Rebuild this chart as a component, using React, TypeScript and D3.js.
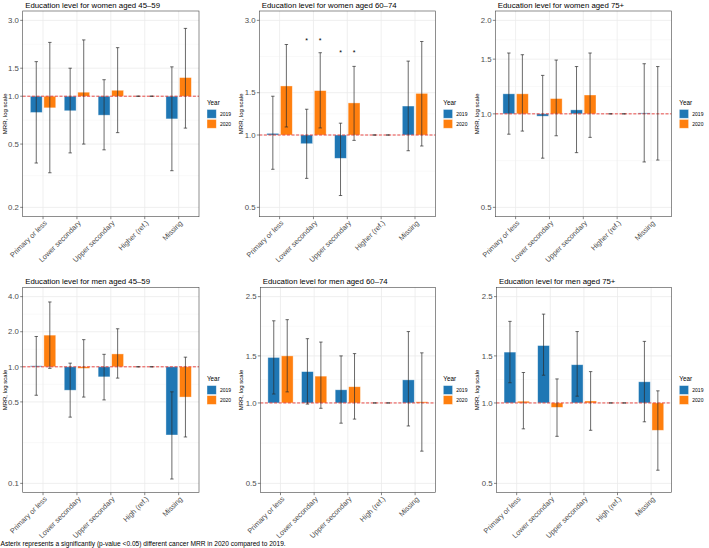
import React from "react";
import * as d3 from "d3";

const W = 709;
const H = 548;

const WOMEN_CATS = ["Primary or less", "Lower secondary", "Upper secondary", "Higher (ref.)", "Missing"];
const MEN_CATS = ["Primary or less", "Lower secondary", "Upper secondary", "High (ref.)", "Missing"];
const YEARS = ["2019", "2020"];
const YEAR_COLORS = ["#1f77b4", "#ff7f0e"];

const TITLES = [
  "Education level for women aged 45\u201359",
  "Education level for women aged 60\u201374",
  "Education level for women aged 75+",
  "Education level for men aged 45\u201359",
  "Education level for men aged 60\u201374",
  "Education level for men aged 75+",
];

// y limits and breaks per panel
const LIMITS = [[0.2, 3], [0.5, 3], [0.5, 2], [0.1, 4], [0.5, 2.5], [0.5, 2.5]];
const BREAKS = [
  [0.2, 0.5, 1, 1.5, 3],
  [0.5, 1, 1.5, 3],
  [0.5, 1, 1.5, 2],
  [0.1, 0.5, 1, 2, 4],
  [0.5, 1, 1.5, 2.5],
  [0.5, 1, 1.5, 2.5],
];

// Women 45-59
const W4559_MRR19 = [0.79, 0.81, 0.76, 1, 0.72];
const W4559_LO19 = [0.38, 0.44, 0.46, 1, 0.34];
const W4559_HI19 = [1.65, 1.5, 1.27, 1, 1.53];
const W4559_MRR20 = [0.845, 1.06, 1.09, 1, 1.31];
const W4559_LO20 = [0.33, 0.5, 0.59, 1, 0.63];
const W4559_HI20 = [2.18, 2.26, 2.02, 1, 2.67];

// Women 60-74
const W6074_MRR19 = [1.016, 0.92, 0.8, 1, 1.32];
const W6074_LO19 = [0.72, 0.66, 0.56, 1, 0.86];
const W6074_HI19 = [1.45, 1.28, 1.12, 1, 2.03];
const W6074_MRR20 = [1.6, 1.53, 1.36, 1, 1.49];
const W6074_LO20 = [1.08, 1.07, 0.95, 1, 0.9];
const W6074_HI20 = [2.38, 2.2, 1.93, 1, 2.45];
const W6074_STAR_CATS = [1, 2];
const W6074_STAR_Y = [2.5, 2.22];

// Women 75+
const W75_MRR19 = [1.16, 0.983, 1.03, 1, 1.007];
const W75_LO19 = [0.86, 0.72, 0.75, 1, 0.7];
const W75_HI19 = [1.57, 1.33, 1.42, 1, 1.45];
const W75_MRR20 = [1.16, 1.12, 1.15, 1, 1.0];
const W75_LO20 = [0.88, 0.85, 0.84, 1, 0.71];
const W75_HI20 = [1.55, 1.49, 1.57, 1, 1.42];

// Men 45-59
const M4559_MRR19 = [1.02, 0.63, 0.82, 1, 0.26];
const M4559_LO19 = [0.57, 0.37, 0.52, 1, 0.109];
const M4559_HI19 = [1.82, 1.075, 1.28, 1, 0.61];
const M4559_MRR20 = [1.87, 0.97, 1.29, 1, 0.55];
const M4559_LO20 = [0.97, 0.55, 0.8, 1, 0.25];
const M4559_HI20 = [3.6, 1.71, 2.12, 1, 1.21];

// Men 60-74
const M6074_MRR19 = [1.48, 1.31, 1.12, 1, 1.22];
const M6074_LO19 = [1.08, 0.99, 0.84, 1, 0.82];
const M6074_HI19 = [2.03, 1.74, 1.5, 1, 1.85];
const M6074_MRR20 = [1.5, 1.26, 1.15, 1, 1.01];
const M6074_LO20 = [1.1, 0.955, 0.87, 1, 0.66];
const M6074_HI20 = [2.05, 1.69, 1.53, 1, 1.54];

// Men 75+
const M75_MRR19 = [1.55, 1.64, 1.39, 1, 1.2];
const M75_LO19 = [1.19, 1.27, 1.06, 1, 0.85];
const M75_HI19 = [2.02, 2.15, 1.85, 1, 1.7];
const M75_MRR20 = [1.015, 0.963, 1.017, 1, 0.79];
const M75_LO20 = [0.8, 0.75, 0.79, 1, 0.56];
const M75_HI20 = [1.3, 1.23, 1.31, 1, 1.11];

const FOOTNOTE =
  "Asterix represents a significantly (p-value <0.05) different cancer MRR in 2020 compared to 2019.";

type Panel = {
  title: string;
  cats: string[];
  mrr: number[][];
  lo: number[][];
  hi: number[][];
  limits: number[];
  breaks: number[];
  starCats: number[];
  starY: number[];
};

const PANELS: Panel[] = [
  { title: TITLES[0], cats: WOMEN_CATS, mrr: [W4559_MRR19, W4559_MRR20], lo: [W4559_LO19, W4559_LO20], hi: [W4559_HI19, W4559_HI20], limits: LIMITS[0], breaks: BREAKS[0], starCats: [], starY: [] },
  { title: TITLES[1], cats: WOMEN_CATS, mrr: [W6074_MRR19, W6074_MRR20], lo: [W6074_LO19, W6074_LO20], hi: [W6074_HI19, W6074_HI20], limits: LIMITS[1], breaks: BREAKS[1], starCats: W6074_STAR_CATS, starY: W6074_STAR_Y },
  { title: TITLES[2], cats: WOMEN_CATS, mrr: [W75_MRR19, W75_MRR20], lo: [W75_LO19, W75_LO20], hi: [W75_HI19, W75_HI20], limits: LIMITS[2], breaks: BREAKS[2], starCats: [], starY: [] },
  { title: TITLES[3], cats: MEN_CATS, mrr: [M4559_MRR19, M4559_MRR20], lo: [M4559_LO19, M4559_LO20], hi: [M4559_HI19, M4559_HI20], limits: LIMITS[3], breaks: BREAKS[3], starCats: [], starY: [] },
  { title: TITLES[4], cats: MEN_CATS, mrr: [M6074_MRR19, M6074_MRR20], lo: [M6074_LO19, M6074_LO20], hi: [M6074_HI19, M6074_HI20], limits: LIMITS[4], breaks: BREAKS[4], starCats: [], starY: [] },
  { title: TITLES[5], cats: MEN_CATS, mrr: [M75_MRR19, M75_MRR20], lo: [M75_LO19, M75_LO20], hi: [M75_HI19, M75_HI20], limits: LIMITS[5], breaks: BREAKS[5], starCats: [], starY: [] },
];

const FONT = "'Liberation Sans', Arial, Helvetica, sans-serif";
const COL_X = [0, 236, 472];
const PANEL_LEFT = [
  [22.7, 259.3, 495.3],
  [22.7, 260.3, 496.5],
];
const PANEL_RIGHT = [199, 435.3, 671.3];
const PANEL_TOP = [11, 287.3];
const PANEL_BOTTOM = [216.7, 492.7];

function PanelView({ p, idx }: { p: Panel; idx: number }) {
  const row = Math.floor(idx / 3);
  const col = idx % 3;
  const left = PANEL_LEFT[row][col];
  const right = PANEL_RIGHT[col];
  const top = PANEL_TOP[row];
  const bottom = PANEL_BOTTOM[row];

  const lnLo = Math.log(p.limits[0]);
  const lnHi = Math.log(p.limits[1]);
  const span = lnHi - lnLo;
  const y = d3
    .scaleLog()
    .domain([Math.exp(lnLo - 0.05 * span), Math.exp(lnHi + 0.05 * span)])
    .range([bottom, top]);
  const x = d3.scalePoint<string>().domain(p.cats).range([left, right]).padding(0.6);
  const step = x.step();
  const barW = 0.35 * step;
  const offs = [-0.2 * step, 0.2 * step];
  const capW = 0.1 * step;

  const minor: number[] = [];
  for (let i = 0; i < p.breaks.length - 1; i++) {
    minor.push(Math.sqrt(p.breaks[i] * p.breaks[i + 1]));
  }
  const fmt = d3.format(".1f");
  const cy = (top + bottom) / 2;
  const legX = right + 8;

  return (
    <g>
      <text x={left + 2.5} y={row === 0 ? 7.9 : 283.8} fontSize={7.8} fill="#000">
        {p.title}
      </text>
      <rect x={left} y={top} width={right - left} height={bottom - top} fill="#fff" />
      {minor.map((v, i) => (
        <line key={"mn" + i} x1={left} x2={right} y1={y(v)} y2={y(v)} stroke="#f2f2f2" strokeWidth={0.5} />
      ))}
      {p.breaks.map((v, i) => (
        <line key={"mj" + i} x1={left} x2={right} y1={y(v)} y2={y(v)} stroke="#ebebeb" strokeWidth={0.8} />
      ))}
      {p.cats.map((c) => (
        <line key={"gx" + c} x1={x(c)} x2={x(c)} y1={top} y2={bottom} stroke="#ebebeb" strokeWidth={0.8} />
      ))}
      {/* bars */}
      {p.cats.map((c, i) =>
        YEARS.map((yr, k) => {
          const v = p.mrr[k][i];
          const y0 = y(1);
          const y1 = y(v);
          return (
            <rect
              key={"b" + c + yr}
              x={(x(c) as number) + offs[k] - barW / 2}
              y={Math.min(y0, y1)}
              width={barW}
              height={Math.abs(y1 - y0)}
              fill={YEAR_COLORS[k]}
              stroke="rgba(255,255,255,0.55)"
              strokeWidth={0.7}
            />
          );
        })
      )}
      {/* reference line */}
      <line x1={left} x2={right} y1={y(1)} y2={y(1)} stroke="#e8201c" strokeWidth={0.8} strokeDasharray="3,1.6" />
      {/* error bars */}
      {p.cats.map((c, i) =>
        YEARS.map((yr, k) => {
          const cx = (x(c) as number) + offs[k];
          const ylo = y(p.lo[k][i]);
          const yhi = y(p.hi[k][i]);
          return (
            <g key={"e" + c + yr} stroke="#2b2b2b" strokeWidth={0.7}>
              <line x1={cx} x2={cx} y1={yhi} y2={ylo} />
              <line x1={cx - capW / 2} x2={cx + capW / 2} y1={yhi} y2={yhi} />
              <line x1={cx - capW / 2} x2={cx + capW / 2} y1={ylo} y2={ylo} />
            </g>
          );
        })
      )}
      {/* asterisks */}
      {p.starCats.map((ci, j) =>
        YEARS.map((yr, k) => (
          <text
            key={"s" + ci + yr}
            x={(x(p.cats[ci]) as number) + offs[k]}
            y={y(p.starY[j]) + 3.6}
            fontSize={7}
            textAnchor="middle"
            fill="#000"
          >
            *
          </text>
        ))
      )}
      <rect x={left} y={top} width={right - left} height={bottom - top} fill="none" stroke="#444" strokeWidth={0.6} />
      {/* y axis */}
      {p.breaks.map((v, i) => (
        <g key={"yt" + i}>
          <line x1={left - 2.5} x2={left} y1={y(v)} y2={y(v)} stroke="#333" strokeWidth={0.6} />
          <text x={left - 3.8} y={y(v)} dy="0.35em" fontSize={7.8} textAnchor="end" fill="#4d4d4d">
            {fmt(v)}
          </text>
        </g>
      ))}
      <text
        transform={`translate(${COL_X[col] + 7.2},${cy}) rotate(-90)`}
        fontSize={6}
        textAnchor="middle"
        fill="#000"
      >
        MRR, log scale
      </text>
      {/* x axis */}
      {p.cats.map((c) => (
        <g key={"xt" + c}>
          <line x1={x(c)} x2={x(c)} y1={bottom} y2={bottom + 2.5} stroke="#333" strokeWidth={0.6} />
          <text
            transform={`translate(${(x(c) as number) + 2.5},${bottom + 5}) rotate(-45)`}
            fontSize={7.3}
            textAnchor="end"
            dy="0.35em"
            fill="#4d4d4d"
          >
            {c}
          </text>
        </g>
      ))}
      {/* legend */}
      <text x={legX} y={cy - 8.6} fontSize={6.3} fill="#000">
        Year
      </text>
      {YEARS.map((yr, k) => (
        <g key={"lg" + yr}>
          <rect x={legX} y={cy - 4.4 + k * 10} width={9.3} height={8.8} fill={YEAR_COLORS[k]} stroke="rgba(255,255,255,0.55)" strokeWidth={0.7} />
          <text x={legX + 13} y={cy - 4.4 + k * 10 + 4.4} dy="0.35em" fontSize={5} fill="#000">
            {yr}
          </text>
        </g>
      ))}
    </g>
  );
}

export default function App() {
  return (
    <svg
      width={W}
      height={H}
      viewBox={`0 0 ${W} ${H}`}
      style={{ position: "fixed", left: 0, top: 0, background: "#fff" }}
      fontFamily={FONT}
    >
      <rect width={W} height={H} fill="#fff" />
      {PANELS.map((p, i) => (
        <PanelView key={i} p={p} idx={i} />
      ))}
      <text x={0.5} y={546} fontSize={6.6} fill="#000">
        {FOOTNOTE}
      </text>
    </svg>
  );
}
